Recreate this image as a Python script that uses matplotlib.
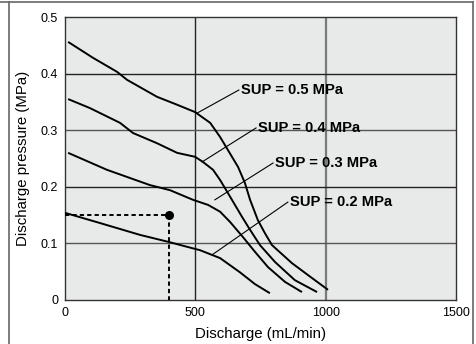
import matplotlib
matplotlib.use("Agg")
import matplotlib.pyplot as plt
from matplotlib.lines import Line2D

plt.rcParams['font.family'] = ['Liberation Sans', 'DejaVu Sans']

# Data
sup05_x = [12, 107, 200, 238, 353, 430, 499, 557, 595, 625, 664, 690, 710, 740, 767, 794, 871, 947, 1009]
sup05_y = [0.456, 0.428, 0.403, 0.389, 0.359, 0.345, 0.332, 0.313, 0.288, 0.265, 0.235, 0.207, 0.177, 0.141, 0.118, 0.097, 0.065, 0.039, 0.018]

sup04_x = [12, 96, 211, 261, 353, 430, 499, 529, 568, 595, 625, 652, 679, 710, 748, 806, 882, 967]
sup04_y = [0.355, 0.339, 0.313, 0.295, 0.277, 0.260, 0.253, 0.244, 0.230, 0.212, 0.189, 0.168, 0.147, 0.124, 0.097, 0.067, 0.035, 0.014]

sup03_x = [12, 161, 326, 403, 491, 549, 595, 633, 683, 729, 779, 844, 909]
sup03_y = [0.260, 0.230, 0.203, 0.194, 0.177, 0.168, 0.156, 0.138, 0.111, 0.085, 0.058, 0.032, 0.014]

sup02_x = [0, 134, 288, 403, 468, 518, 595, 671, 729, 786]
sup02_y = [0.154, 0.136, 0.115, 0.102, 0.094, 0.088, 0.074, 0.049, 0.028, 0.012]

labels = ["SUP = 0.5 MPa", "SUP = 0.4 MPa", "SUP = 0.3 MPa", "SUP = 0.2 MPa"]
leader_start = [(506, 0.330), (526, 0.244), (575, 0.177), (568, 0.081)]
leader_end = [(667, 0.371), (733, 0.304), (798, 0.242), (855, 0.173)]

example_x = 400
example_y = 0.15

x_ticks = [0, 500, 1000, 1500]
x_ticklabels = ["0", "500", "1000", "1500"]
y_ticks = [0, 0.1, 0.2, 0.3, 0.4, 0.5]
y_ticklabels = ["0", "0.1", "0.2", "0.3", "0.4", "0.5"]

fig = plt.figure(figsize=(4.76, 3.44), dpi=100)
ax = fig.add_axes([65/476, 44/344, 391/476, 283/344])
ax.set_facecolor('#e8e9e9')
ax.set_xlim(0, 1500)
ax.set_ylim(0, 0.5)

# grid lines
ax.axvline(500, color='#222222', lw=1.0, zorder=1)
ax.axvline(1000, color='#7a7a7a', lw=1.6, zorder=1)
for yv, c in [(0.1, '#555555'), (0.2, '#222222'), (0.3, '#555555'), (0.4, '#222222')]:
    ax.axhline(yv, color=c, lw=1.0, zorder=1)

for xs, ys in [(sup05_x, sup05_y), (sup04_x, sup04_y), (sup03_x, sup03_y), (sup02_x, sup02_y)]:
    ax.plot(xs, ys, color='black', lw=1.4, zorder=3, solid_capstyle='butt')

for lab, (sx, sy), (ex, ey) in zip(labels, leader_start, leader_end):
    ax.plot([sx, ex], [sy, ey], color='black', lw=0.8, zorder=3)
    ax.text(ex + 8, ey, lab, fontsize=10.6, fontweight='bold', ha='left', va='center', zorder=4)

ax.plot([0, example_x], [example_y, example_y], color='black', lw=1.4, ls=(0, (2.2, 1.6)), zorder=3)
ax.plot([example_x, example_x], [example_y, 0], color='black', lw=1.4, ls=(0, (2.2, 1.6)), zorder=3)
ax.plot([example_x], [example_y], 'o', color='black', ms=5.5, zorder=4)

ax.set_xticks(x_ticks)
ax.set_xticklabels(x_ticklabels)
ax.set_yticks(y_ticks)
ax.set_yticklabels(y_ticklabels)
ax.tick_params(length=0, labelsize=9, pad=5)
for s in ax.spines.values():
    s.set_color('#333333')
    s.set_linewidth(1.0)

ax.set_xlabel("Discharge (mL/min)", fontsize=10.8)
ax.xaxis.set_label_coords(0.5, -0.095)
ax.set_ylabel("Discharge pressure (MPa)", fontsize=10.8)
ax.yaxis.set_label_coords(-0.09, 0.5)

# outer frame
W, H = 476, 344
fig.add_artist(Line2D([0, 472.5/W], [1 - 1.5/H, 1 - 1.5/H], color='#666666', lw=1.2))
fig.add_artist(Line2D([8.5/W, 8.5/W], [0, 1 - 1.5/H], color='#666666', lw=1.2))
fig.add_artist(Line2D([472.5/W, 472.5/W], [0, 1 - 1.5/H], color='#666666', lw=1.2))

fig.savefig("out.png", dpi=100)
